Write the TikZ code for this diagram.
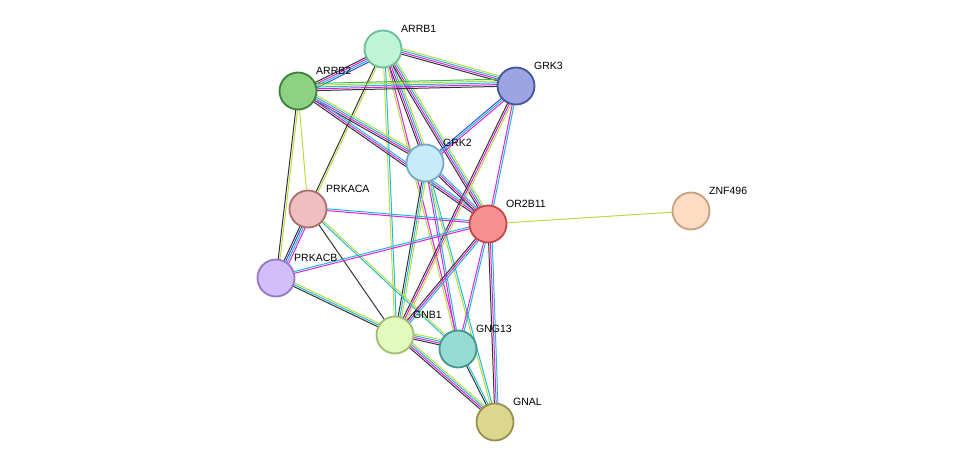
\documentclass[tikz,border=0pt]{standalone}
\usepackage{fontspec}
\setmainfont{Liberation Sans}
\usetikzlibrary{calc}
\definecolor{ek}{HTML}{333333}
\definecolor{em}{HTML}{E020E0}
\definecolor{ec}{HTML}{20B8D8}
\definecolor{ey}{HTML}{B8DC40}
\definecolor{eb}{HTML}{3050E0}
\definecolor{eg}{HTML}{40C040}
% draw parallel lines between two nodes, one per colour
\newcommand{\stredge}[3]{%
  \foreach \col [count=\i] in {#3} {
    \pgfmathsetmacro{\off}{(\i-1)*1.8}
    \draw[\col,line width=1pt]
      ($(#1)!\off pt!90:(#2)$) -- ($(#2)!\off pt!-90:(#1)$);
  }}
\begin{document}
\begin{tikzpicture}[x=1pt,y=-1pt,
    prot/.style={circle,draw,line width=1.8pt,minimum size=37pt,inner sep=0pt},
    lab/.style={font=\fontsize{10.5}{12}\selectfont,anchor=south west,inner sep=1pt}]
  \useasboundingbox (0,0) rectangle (975,468);
  \coordinate (ARRB1) at (383,49);
  \coordinate (ARRB2) at (298,91);
  \coordinate (GRK3) at (516,86);
  \coordinate (GRK2) at (425,163);
  \coordinate (PRKACA) at (308,209);
  \coordinate (OR2B11) at (488,224);
  \coordinate (ZNF496) at (691,211);
  \coordinate (PRKACB) at (276,278);
  \coordinate (GNB1) at (395,335);
  \coordinate (GNG13) at (458,349);
  \coordinate (GNAL) at (495,422);
  % edges
  \stredge{ARRB1}{ARRB2}{ek,em,ec,eb}
  \stredge{ARRB1}{GRK3}{ek,em,ec,ey}
  \stredge{ARRB1}{GRK2}{ek,em,ec,ey}
  \stredge{ARRB1}{OR2B11}{ek,em,ec,ey}
  \stredge{ARRB1}{PRKACA}{ek,ey}
  \stredge{ARRB1}{GNB1}{ey,ec}
  \stredge{ARRB1}{GNG13}{ey,em}
  \stredge{ARRB2}{GRK3}{ek,em,ec,ey,eg}
  \stredge{ARRB2}{GRK2}{ek,em,ec,ey}
  \stredge{ARRB2}{OR2B11}{ek,em,ec}
  \stredge{ARRB2}{PRKACA}{ey}
  \stredge{ARRB2}{PRKACB}{ek,ey}
  \stredge{GRK3}{GRK2}{eb,ec,em}
  \stredge{GRK3}{OR2B11}{em,ec}
  \stredge{GRK3}{GNB1}{ek,em,ey}
  \stredge{GRK2}{OR2B11}{ek,em,ec}
  \stredge{GRK2}{GNB1}{ek,ec,ey}
  \stredge{GRK2}{GNG13}{em,ec}
  \stredge{GRK2}{GNAL}{ey,ec}
  \stredge{PRKACA}{OR2B11}{em,ec}
  \stredge{PRKACA}{PRKACB}{ek,eb,ec,em}
  \stredge{PRKACA}{GNB1}{ek}
  \stredge{PRKACA}{GNG13}{ec,ey}
  \stredge{PRKACB}{OR2B11}{em,ec}
  \stredge{PRKACB}{GNB1}{ek,ec,ey}
  \stredge{OR2B11}{ZNF496}{ey}
  \stredge{OR2B11}{GNB1}{ek,em,ec}
  \stredge{OR2B11}{GNG13}{em,ec}
  \stredge{OR2B11}{GNAL}{ek,em,ec}
  \stredge{GNB1}{GNG13}{ek,em,ec,ey}
  \stredge{GNB1}{GNAL}{ek,em,ec,ey}
  \stredge{GNG13}{GNAL}{ek,ec}
  % proteins
  \node[prot,fill={rgb,255:red,190;green,245;blue,215},draw={rgb,255:red,110;green,190;blue,150}] (nARRB1) at (ARRB1) {};
  \node[prot,fill={rgb,255:red,140;green,210;blue,130},draw={rgb,255:red,60;green,130;blue,60}] (nARRB2) at (ARRB2) {};
  \node[prot,fill={rgb,255:red,155;green,165;blue,225},draw={rgb,255:red,70;green,85;blue,160}] (nGRK3) at (GRK3) {};
  \node[prot,fill={rgb,255:red,200;green,235;blue,250},draw={rgb,255:red,120;green,170;blue,200}] (nGRK2) at (GRK2) {};
  \node[prot,fill={rgb,255:red,240;green,190;blue,190},draw={rgb,255:red,170;green,110;blue,110}] (nPRKACA) at (PRKACA) {};
  \node[prot,fill={rgb,255:red,245;green,145;blue,145},draw={rgb,255:red,200;green,70;blue,70}] (nOR2B11) at (OR2B11) {};
  \node[prot,fill={rgb,255:red,253;green,220;blue,195},draw={rgb,255:red,200;green,160;blue,130}] (nZNF496) at (ZNF496) {};
  \node[prot,fill={rgb,255:red,210;green,190;blue,250},draw={rgb,255:red,150;green,120;blue,200}] (nPRKACB) at (PRKACB) {};
  \node[prot,fill={rgb,255:red,225;green,250;blue,190},draw={rgb,255:red,160;green,190;blue,110}] (nGNB1) at (GNB1) {};
  \node[prot,fill={rgb,255:red,150;green,220;blue,210},draw={rgb,255:red,70;green,150;blue,140}] (nGNG13) at (GNG13) {};
  \node[prot,fill={rgb,255:red,220;green,215;blue,140},draw={rgb,255:red,150;green,145;blue,80}] (nGNAL) at (GNAL) {};
  % labels
  \foreach \p in {ARRB1,ARRB2,GRK3,GRK2,PRKACA,OR2B11,ZNF496,PRKACB,GNB1,GNG13,GNAL}
    \node[lab] at ($(\p)+(17,-15)$) {\p};
\end{tikzpicture}
\end{document}
